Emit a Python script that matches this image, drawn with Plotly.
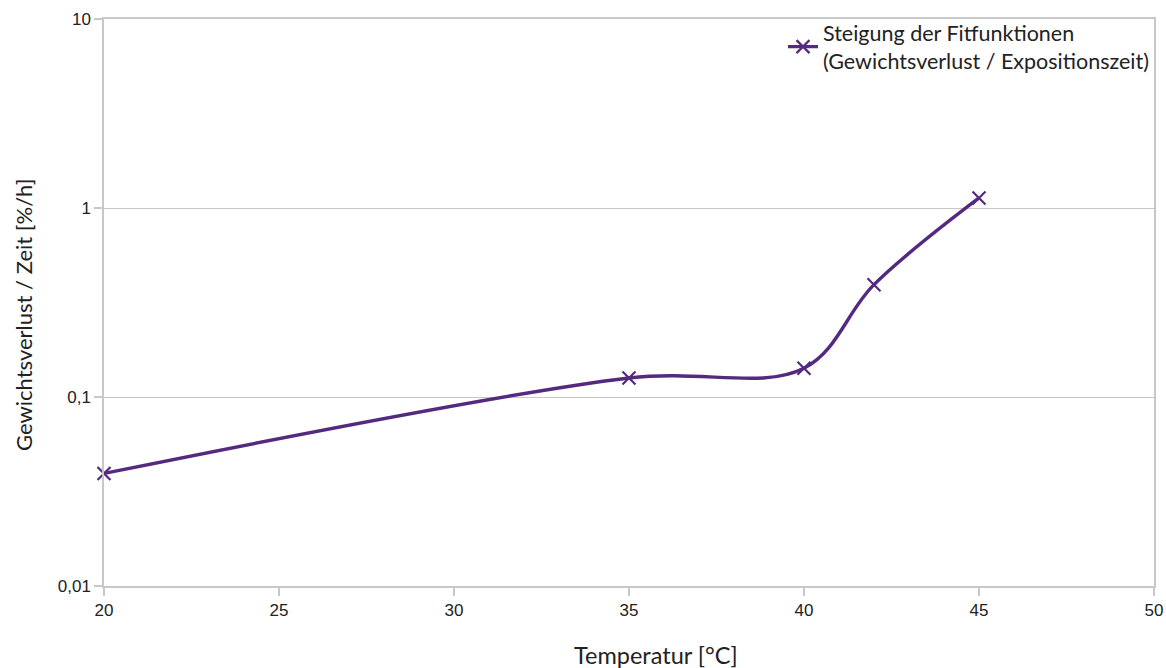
import plotly.graph_objects as go

# Temperature (°C) and slope of the fit functions (weight loss per exposure time, %/h)
temperatur = [20, 35, 40, 42, 45]
steigung = [0.0394, 0.126, 0.142, 0.393, 1.13]

x_ticks = [20, 25, 30, 35, 40, 45, 50]
y_ticks = [0.01, 0.1, 1, 10]
y_tick_text = ["0,01", "0,1", "1", "10"]

purple = "#532a80"
grid = "#c8c8c8"
label_font = "Lato, Open Sans, sans-serif"
tick_font = dict(family="Liberation Sans, Arial, sans-serif", size=17, color="#222")

fig = go.Figure()
fig.add_trace(go.Scatter(
    x=temperatur,
    y=steigung,
    mode="lines+markers",
    name="Steigung der Fitfunktionen<br>(Gewichtsverlust / Expositionszeit)",
    line=dict(color=purple, width=3.4, shape="spline", smoothing=1.0),
    marker=dict(symbol="x-thin", size=13, line=dict(color=purple, width=2.2), color=purple),
    cliponaxis=False,
))

fig.update_layout(
    width=1166,
    height=668,
    margin=dict(l=104, r=12, t=17, b=82),
    plot_bgcolor="white",
    paper_bgcolor="white",
    showlegend=True,
    legend=dict(
        x=1.0, y=1.012, xanchor="right", yanchor="top",
        font=dict(family=label_font, size=21.5, color="#222"),
        bgcolor="rgba(255,255,255,0)",
        tracegroupgap=0,
    ),
    xaxis=dict(
        range=[20, 50],
        tickvals=x_ticks,
        ticks="outside", ticklen=8, tickcolor=grid, tickwidth=1.5,
        showgrid=False,
        showline=True, linecolor=grid, linewidth=1.5, mirror=True,
        tickfont=tick_font,
        automargin=False,
        zeroline=False,
    ),
    yaxis=dict(
        type="log",
        range=[-2, 1],
        tickvals=y_ticks,
        ticktext=y_tick_text,
        ticks="outside", ticklen=8, tickcolor=grid, tickwidth=1.5,
        showgrid=True, gridcolor=grid, gridwidth=1.2,
        showline=True, linecolor=grid, linewidth=1.5, mirror=True,
        tickfont=tick_font,
        automargin=False,
        zeroline=False,
    ),
    annotations=[
        dict(text="Temperatur [°C]", xref="paper", yref="paper",
             x=0.5257, y=-0.1213, xanchor="center", yanchor="middle",
             showarrow=False, font=dict(family=label_font, size=23.5, color="#222")),
        dict(text="Gewichtsverlust / Zeit [%/h]", xref="paper", yref="paper",
             x=-0.0762, y=0.478, xanchor="center", yanchor="middle", textangle=-90,
             showarrow=False, font=dict(family=label_font, size=22, color="#222")),
    ],
)

fig.write_html("out.html")
